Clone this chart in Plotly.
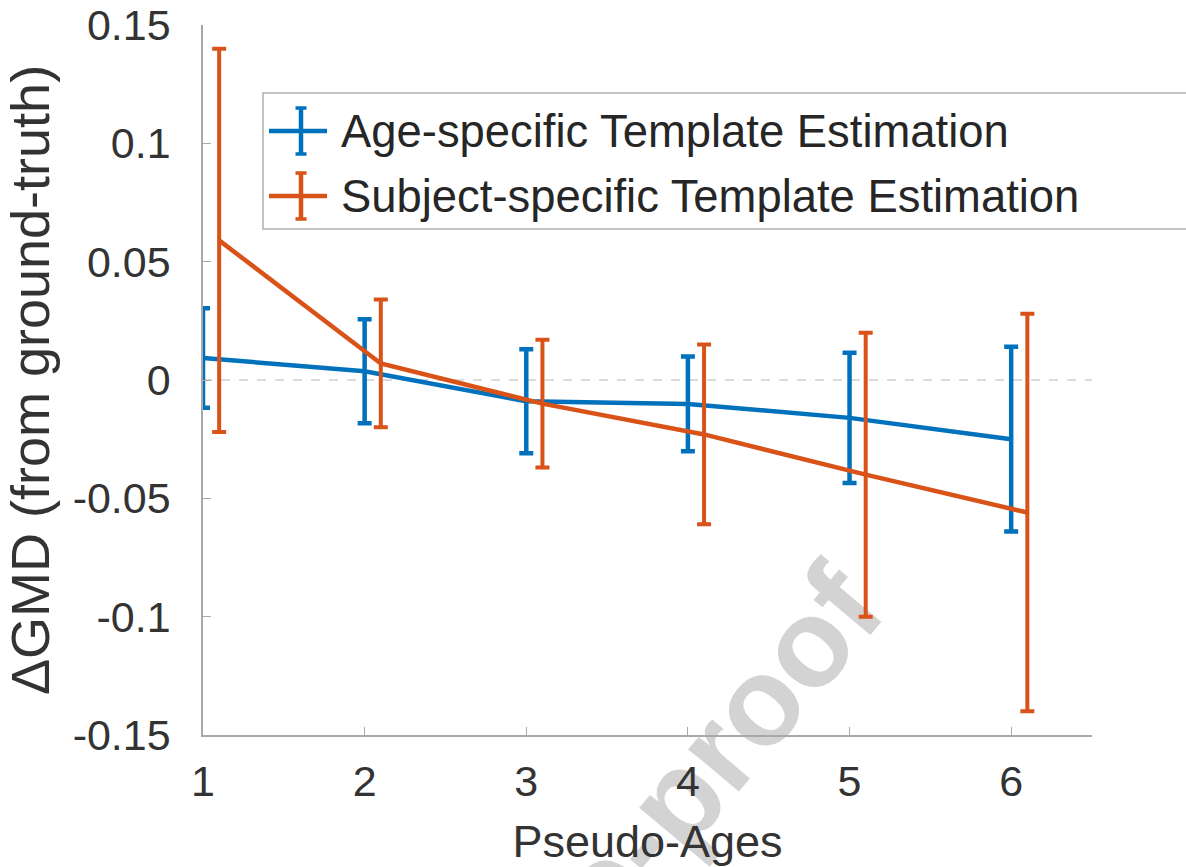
import plotly.graph_objects as go

# ---- data ----
ages = [1, 2, 3, 4, 5, 6]
age_specific_mean = [0.0093, 0.0037, -0.0090, -0.0101, -0.0160, -0.0250]
age_specific_err = [0.021, 0.022, 0.022, 0.020, 0.0275, 0.039]
subject_specific_mean = [0.059, 0.007, -0.010, -0.023, -0.040, -0.056]
subject_specific_err = [0.081, 0.027, 0.027, 0.038, 0.060, 0.084]
series_names = ["Age-specific Template Estimation", "Subject-specific Template Estimation"]
y_tickvals = [-0.15, -0.1, -0.05, 0, 0.05, 0.1, 0.15]
y_ticktext = ["-0.15", "-0.1", "-0.05", "0", "0.05", "0.1", "0.15"]
x_ticktext = ["1", "2", "3", "4", "5", "6"]

BLUE = "#0072BD"
ORANGE = "#D95319"
FONT = "Liberation Sans, Arial, sans-serif"
TXT = "#333333"
AXC = "#a8a8a8"
offset = 0.1  # horizontal dodge of second series

W, H = 1186, 867
ML, MT = 203, 25
PW, PH = 889, 710
MR, MB = W - ML - PW, H - MT - PH


def px(xs):  # pixel x -> paper
    return (xs - ML) / PW


def py(ys):  # pixel y -> paper
    return (MT + PH - ys) / PH


fig = go.Figure()
fig.add_trace(go.Scatter(
    x=ages, y=age_specific_mean, mode="lines", name=series_names[0],
    line=dict(color=BLUE, width=4.5),
    error_y=dict(type="data", array=age_specific_err, visible=True,
                 color=BLUE, thickness=4.5, width=7),
))
fig.add_trace(go.Scatter(
    x=[a + offset for a in ages], y=subject_specific_mean, mode="lines", name=series_names[1],
    line=dict(color=ORANGE, width=4.5),
    error_y=dict(type="data", array=subject_specific_err, visible=True,
                 color=ORANGE, thickness=4, width=7),
))

# dashed zero reference line
fig.add_shape(type="line", xref="paper", x0=0, x1=1, yref="y", y0=0, y1=0,
              line=dict(color="#b8b8b8", width=1.2, dash="dash"), layer="below")

# watermark
wx, wy = px(510), py(978)
fig.add_shape(type="rect", xref="paper", yref="paper",
              x0=wx - 0.004, x1=wx + 0.004, y0=wy - 0.004, y1=wy + 0.004,
              line=dict(width=0), fillcolor="rgba(0,0,0,0)", layer="below",
              label=dict(text="<b>Journal Pre-proof</b>", textangle=-50,
                         font=dict(family=FONT, size=125, color="#d3d3d3"),
                         textposition="middle center"))

# legend (drawn manually to reproduce the error-bar legend glyphs)
fig.add_shape(type="rect", xref="paper", yref="paper",
              x0=px(263), x1=1.2, y0=py(229), y1=py(93),
              line=dict(color="#b0b0b0", width=1.5), fillcolor="rgba(255,255,255,0)", layer="above")
legend_rows = [(131, BLUE, series_names[0]), (196, ORANGE, series_names[1])]
for yc, col, name in legend_rows:
    fig.add_shape(type="line", xref="paper", yref="paper", x0=px(269), x1=px(327), y0=py(yc), y1=py(yc),
                  line=dict(color=col, width=4.5))
    fig.add_shape(type="line", xref="paper", yref="paper", x0=px(301), x1=px(301), y0=py(yc - 23), y1=py(yc + 23),
                  line=dict(color=col, width=4.5))
    for yy in (yc - 23, yc + 23):
        fig.add_shape(type="line", xref="paper", yref="paper", x0=px(295.5), x1=px(306.5), y0=py(yy), y1=py(yy),
                      line=dict(color=col, width=3.5))
    fig.add_annotation(xref="paper", yref="paper", x=px(339), y=py(yc), xanchor="left", yanchor="middle",
                       text=name, showarrow=False, font=dict(family=FONT, size=45.4, color="#262626"))

fig.update_layout(
    width=W, height=H, autosize=False,
    margin=dict(l=ML, r=MR, t=MT, b=MB),
    paper_bgcolor="white", plot_bgcolor="white",
    font=dict(family=FONT, color=TXT, size=44),
    showlegend=False,
    xaxis=dict(range=[1, 6.5], tickvals=ages, ticktext=x_ticktext, automargin=False,
               showgrid=False, zeroline=False, showline=True, linecolor=AXC, linewidth=1.5,
               ticks="inside", ticklen=8, tickcolor=AXC, tickwidth=1.2, ticklabeloverflow="allow",
               tickfont=dict(size=43, color=TXT), ticklabelstandoff=8,
               title=dict(text="Pseudo-Ages", font=dict(size=45, color=TXT), standoff=22)),
    yaxis=dict(range=[-0.15, 0.15], tickvals=y_tickvals, ticktext=y_ticktext, automargin=False,
               showgrid=False, zeroline=False, showline=True, linecolor=AXC, linewidth=1.5,
               ticks="inside", ticklen=8, tickcolor=AXC, tickwidth=1.2, ticklabeloverflow="allow",
               tickfont=dict(size=43, color=TXT), ticklabelstandoff=22,
               title=dict(text="ΔGMD (from ground-truth)", font=dict(size=54, color=TXT), standoff=13)),
)

# remove the browser's default 8px body margin so the figure fills the window exactly
fig.write_html("out.html", config={"displayModeBar": False},
               post_script="document.body.style.margin='0';")
